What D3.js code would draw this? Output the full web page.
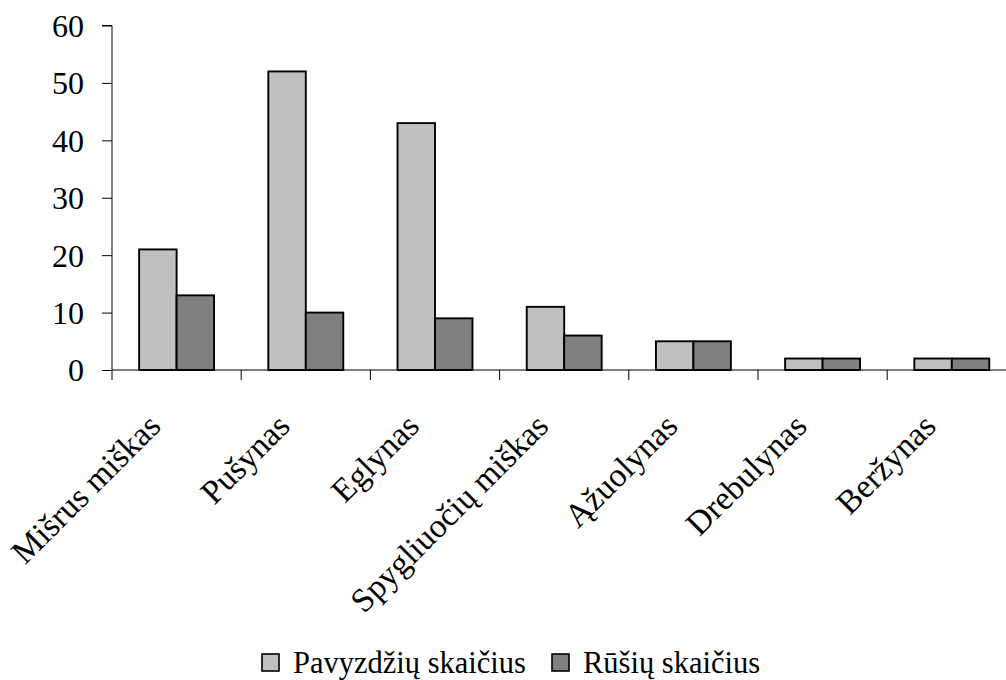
<!DOCTYPE html>
<html>
<head>
<meta charset="utf-8">
<script src="https://cdn.jsdelivr.net/npm/d3@7"></script>
<style>
  html, body { margin: 0; padding: 0; background: #fff; }
  svg { display: block; }
</style>
</head>
<body>
<svg id="chart" width="1006" height="680"></svg>
<script>
// Miško tipai ir jų rodikliai
const categories = ["Mišrus miškas", "Pušynas", "Eglynas", "Spygliuočių miškas", "Ąžuolynas", "Drebulynas", "Beržynas"];
const seriesNames = ["Pavyzdžių skaičius", "Rūšių skaičius"];
const pavyzdziai = [21, 52, 43, 11, 5, 2, 2];
const rusys = [13, 10, 9, 6, 5, 2, 2];
const yTicks = [0, 10, 20, 30, 40, 50, 60];
const colors = ["#c0c0c0", "#808080"];

const seriesValues = [pavyzdziai, rusys];
const FONT = "'Liberation Serif', 'Times New Roman', Times, serif";

const svg = d3.select("#chart").style("font-family", FONT);
const plotLeft = 112, plotTop = 25.5, plotBottom = 370;
const band = 129.2;

const x = d3.scaleBand()
  .domain(categories)
  .range([plotLeft, plotLeft + band * categories.length])
  .padding(0);

const groupW = x.bandwidth() * 0.58;
const xs = d3.scaleBand()
  .domain(seriesNames)
  .range([(x.bandwidth() - groupW) / 2, (x.bandwidth() + groupW) / 2])
  .padding(0);

const y = d3.scaleLinear().domain([0, 60]).range([plotBottom, plotTop]);

// Stulpeliai
const groups = svg.append("g")
  .selectAll("g")
  .data(categories)
  .join("g")
  .attr("transform", d => `translate(${x(d)},0)`);

groups.selectAll("rect")
  .data((d, i) => seriesNames.map((s, j) => ({ s, j, v: seriesValues[j][i] })))
  .join("rect")
  .attr("x", d => xs(d.s))
  .attr("width", xs.bandwidth())
  .attr("y", d => y(d.v))
  .attr("height", d => y(0) - y(d.v))
  .attr("fill", d => colors[d.j])
  .attr("stroke", "#000")
  .attr("stroke-width", 1.9);

// Y ašis
const yAxis = d3.axisLeft(y).tickValues(yTicks).tickSize(10).tickPadding(18).tickFormat(d3.format("d"));
const gy = svg.append("g").attr("transform", `translate(${plotLeft},0)`).call(yAxis);
gy.attr("font-family", null);
gy.select(".domain").attr("d", `M-10,${y(60)}H0V${y(0)}`).attr("stroke", "#000");
gy.selectAll(".tick line").attr("stroke", "#000");
gy.selectAll(".tick text")
  .attr("font-size", 32)
  .attr("fill", "#000")
  .attr("dy", "0.34em")
  .style("font-family", FONT);

// X ašis
svg.append("line")
  .attr("x1", plotLeft).attr("x2", 1006)
  .attr("y1", y(0)).attr("y2", y(0))
  .attr("stroke", "#000");

const boundaries = categories.map(c => x(c));
svg.append("g").selectAll("line")
  .data(boundaries)
  .join("line")
  .attr("x1", d => d).attr("x2", d => d)
  .attr("y1", y(0)).attr("y2", y(0) + 10)
  .attr("stroke", "#000");

// Kategorijų pavadinimai
svg.append("g").selectAll("text")
  .data(categories)
  .join("text")
  .attr("transform", d => `translate(${x(d) + x.bandwidth() / 2 - 14},428) rotate(-45)`)
  .attr("text-anchor", "end")
  .attr("font-size", 33.5)
  .attr("fill", "#000")
  .style("font-family", FONT)
  .text(d => d);

// Legenda
const legendPos = [{ sx: 262, tx: 293 }, { sx: 552, tx: 583 }];
const legend = svg.append("g").selectAll("g")
  .data(seriesNames)
  .join("g");
legend.append("rect")
  .attr("x", (d, i) => legendPos[i].sx)
  .attr("y", 654)
  .attr("width", 17)
  .attr("height", 17)
  .attr("fill", (d, i) => colors[i])
  .attr("stroke", "#000")
  .attr("stroke-width", 1.6);
legend.append("text")
  .attr("x", (d, i) => legendPos[i].tx)
  .attr("y", 673)
  .attr("font-size", 30.5)
  .attr("fill", "#000")
  .style("font-family", FONT)
  .text(d => d);
</script>
</body>
</html>
